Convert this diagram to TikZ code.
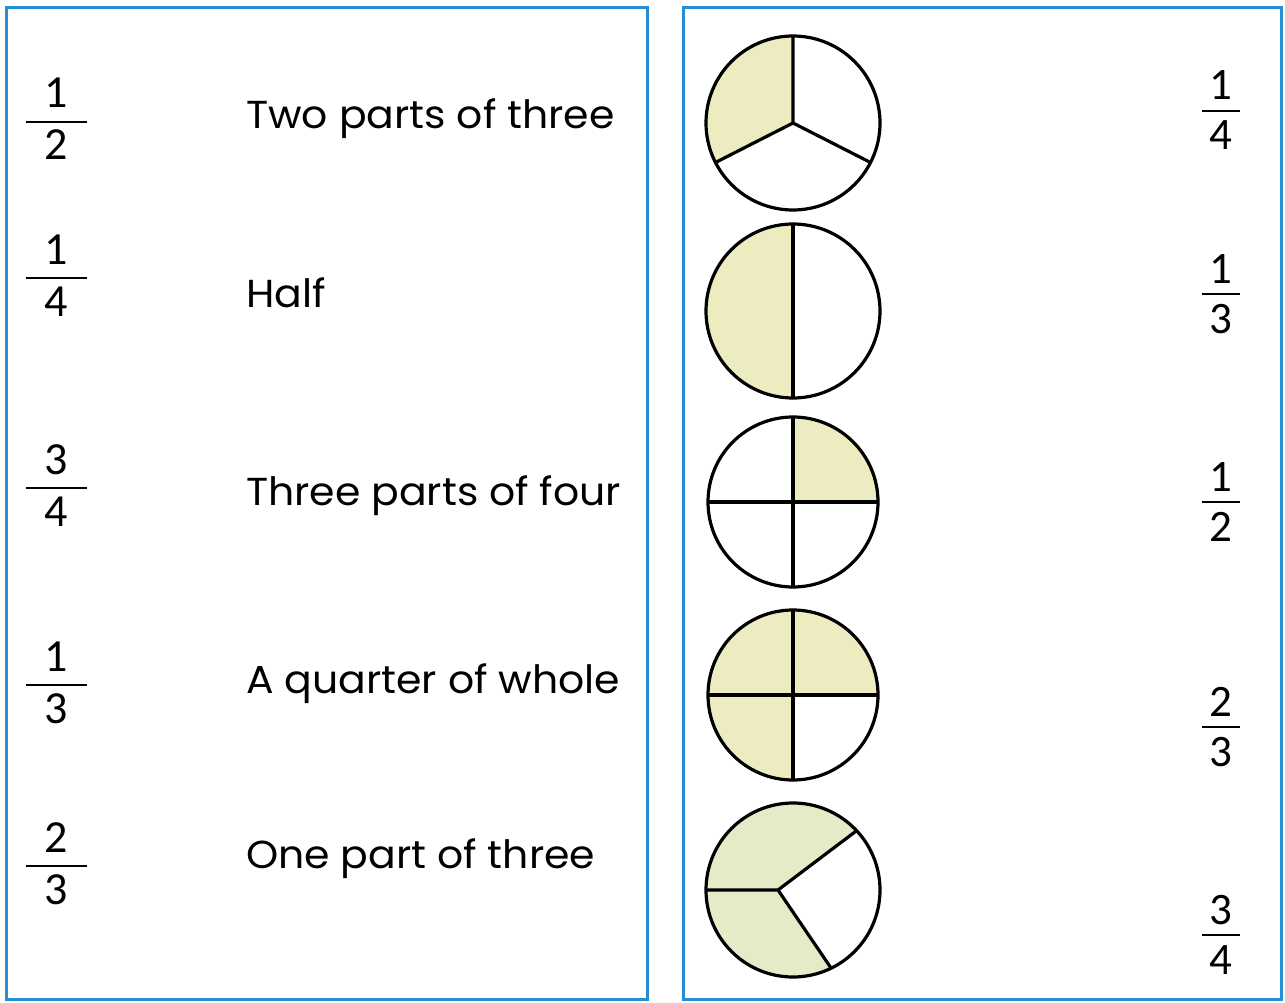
\documentclass[tikz,border=0pt]{standalone}
\usepackage{fontspec}
\usetikzlibrary{calc}
\setmainfont[FakeStretch=1.05]{Poppins}
\newfontfamily\numfont{Carlito}
\definecolor{frameblue}{RGB}{38,143,210}
\definecolor{shadeA}{RGB}{237,236,192}
\definecolor{shadeB}{RGB}{228,235,198}
\begin{document}
\begin{tikzpicture}[x=1pt,y=1pt,
  frame/.style={draw=frameblue,line width=3pt},
  pieline/.style={draw=black,line width=3.2pt,line join=round},
  wordlabel/.style={anchor=base west,inner sep=0pt,font=\fontsize{39}{46}\selectfont},
  digit/.style={anchor=base,inner sep=0pt,font=\numfont\fontsize{46}{52}\selectfont},
  rdigit/.style={anchor=base,inner sep=0pt,font=\numfont\fontsize{45}{52}\selectfont},
  fracbar/.style={draw=black,line width=2.4pt}]
\useasboundingbox (0,0) rectangle (1285,-1003);
% frames
\draw[frame] (6,-8) rectangle (647,-999);
\draw[frame] (683,-8) rectangle (1281,-999);
% left fractions
\foreach \n/\y/\a/\b in {L1/122/1/2, L2/278/1/4, L3/488/3/4, L4/685/1/3, L5/866/2/3} {
  \node[digit] (\n n) at (56,-\y+14) {\a};
  \node[digit] (\n d) at (56,-\y-38) {\b};
  \draw[fracbar] (26,-\y) coordinate (\n l) -- (87,-\y) coordinate (\n r);
}
% left words
\node[wordlabel] (w1) at (246,-129) {Two parts of three};
\node[wordlabel] (w2) at (246,-307) {Half};
\node[wordlabel] (w3) at (246,-505) {Three parts of four};
\node[wordlabel] (w4) at (246,-693) {A quarter of whole};
\node[wordlabel] (w5) at (246,-868) {One part of three};
% right fractions
\foreach \n/\y/\a/\b in {R1/111/1/4, R2/294/1/3, R3/502/1/2, R4/727/2/3, R5/935/3/4} {
  \node[rdigit] (\n n) at (1221,-\y+11) {\a};
  \node[rdigit] (\n d) at (1221,-\y-39) {\b};
  \draw[fracbar] (1202,-\y) coordinate (\n l) -- (1240,-\y) coordinate (\n r);
}
% circle 1: one third shaded
\coordinate (c1) at (793,-123);
\fill[shadeA] (c1) -- ++(90:87) arc[start angle=90,end angle=207,radius=87] -- cycle;
\draw[pieline] (c1) circle[radius=87];
\draw[pieline] (c1) -- ++(90:87) (c1) -- ++(207:87) (c1) -- ++(333:87);
% circle 2: half shaded
\coordinate (c2) at (793,-311);
\fill[shadeA] (c2) -- ++(90:87) arc[start angle=90,end angle=270,radius=87] -- cycle;
\draw[pieline] (c2) circle[radius=87];
\draw[pieline] (c2) ++(90:87) -- ++(0,-174);
% circle 3: one quarter shaded
\coordinate (c3) at (793,-502);
\fill[shadeA] (c3) -- ++(0:85) arc[start angle=0,end angle=90,radius=85] -- cycle;
\draw[pieline] (c3) circle[radius=85];
\draw[pieline] (c3) ++(90:85) -- ++(0,-170) (c3) ++(180:85) -- ++(170,0);
% circle 4: three quarters shaded
\coordinate (c4) at (793,-695);
\fill[shadeA] (c4) -- ++(0:85) arc[start angle=0,end angle=270,radius=85] -- cycle;
\draw[pieline] (c4) circle[radius=85];
\draw[pieline] (c4) ++(90:85) -- ++(0,-170) (c4) ++(180:85) -- ++(170,0);
% circle 5: two thirds shaded
\coordinate (c5) at (793,-890);
\coordinate (j5) at (778,-890);
\fill[shadeB] (j5) -- ($(c5)+(43:87)$) arc[start angle=43,end angle=296,radius=87] -- cycle;
\draw[pieline] (c5) circle[radius=87];
\draw[pieline] (j5) -- (706,-890) (j5) -- ($(c5)+(43:87)$) (j5) -- ($(c5)+(296:87)$);
\end{tikzpicture}
\end{document}
